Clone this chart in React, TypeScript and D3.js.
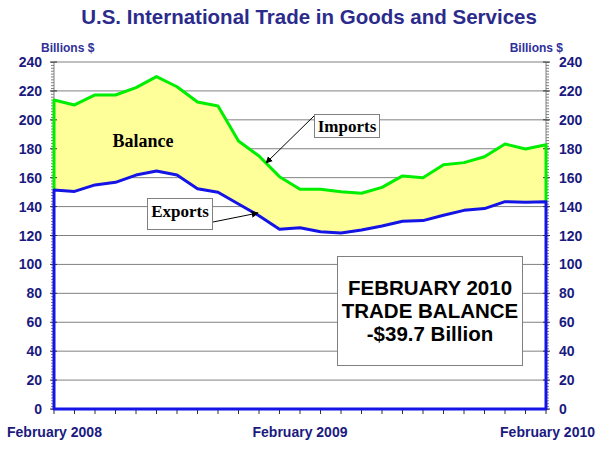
import React, { useRef, useEffect } from 'react';
import * as d3 from 'd3';

const months = [
  "Feb 2008", "Mar 2008", "Apr 2008", "May 2008", "Jun 2008", "Jul 2008", "Aug 2008",
  "Sep 2008", "Oct 2008", "Nov 2008", "Dec 2008", "Jan 2009", "Feb 2009", "Mar 2009",
  "Apr 2009", "May 2009", "Jun 2009", "Jul 2009", "Aug 2009", "Sep 2009", "Oct 2009",
  "Nov 2009", "Dec 2009", "Jan 2010", "Feb 2010"
];
const imports = [
  213.7, 210.3, 217.2, 217.2, 222.3, 229.9, 222.9, 212.3, 209.6, 185.4, 175.0, 160.7, 152.0,
  152.0, 150.3, 149.2, 153.3, 161.2, 160.0, 169.0, 170.4, 174.5, 183.3, 179.8, 182.8
];
const exports = [
  151.5, 150.5, 155.0, 156.8, 161.8, 164.6, 161.8, 152.4, 149.9, 141.8, 133.7, 124.3, 125.4,
  122.6, 121.7, 123.8, 126.6, 129.8, 130.3, 134.0, 137.4, 138.6, 143.4, 143.0, 143.4
];
const yTicks = [0, 20, 40, 60, 80, 100, 120, 140, 160, 180, 200, 220, 240];
const xLabels = [
  { idx: 0, text: "February 2008", anchor: "start" },
  { idx: 12, text: "February 2009", anchor: "middle" },
  { idx: 24, text: "February 2010", anchor: "end" }
];
const noteLines = ["FEBRUARY 2010", "TRADE BALANCE", "-$39.7 Billion"];

const TradeChart: React.FC = () => {
  const svgRef = useRef<SVGSVGElement | null>(null);

  useEffect(() => {
    const svg = d3.select(svgRef.current);
    svg.selectAll("*").remove();

    const width = 600;
    const height = 458;
    const left = 54, right = 546, top = 62, bottom = 409;

    svg.attr("width", width).attr("height", height);

    const x = d3.scaleLinear().domain([0, months.length - 1]).range([left, right]);
    const y = d3.scaleLinear().domain([0, 240]).range([bottom, top]);

    const navy = "#1a1a80";
    const gray = "#808080";

    svg.append("defs").append("marker")
      .attr("id", "arrow")
      .attr("viewBox", "0 0 10 10")
      .attr("refX", 9)
      .attr("refY", 5)
      .attr("markerWidth", 7)
      .attr("markerHeight", 7)
      .attr("markerUnits", "userSpaceOnUse")
      .attr("orient", "auto")
      .append("path")
      .attr("d", "M0,0 L10,5 L0,10 z")
      .attr("fill", "#000");

    // Title
    svg.append("text")
      .attr("x", 309)
      .attr("y", 24)
      .attr("text-anchor", "middle")
      .attr("font-family", "Arial, 'Liberation Sans', sans-serif")
      .attr("font-weight", "bold")
      .attr("font-size", 20.5)
      .attr("fill", "#2b2b8c")
      .text("U.S. International Trade in Goods and Services");

    // Gridlines
    svg.append("g")
      .selectAll("line")
      .data(yTicks.filter(t => t > 0))
      .join("line")
      .attr("x1", left)
      .attr("x2", right)
      .attr("y1", d => y(d))
      .attr("y2", d => y(d))
      .attr("stroke", gray)
      .attr("stroke-width", 1);

    // Balance area
    const area = d3.area<number>()
      .x((_, i) => x(i))
      .y0((_, i) => y(exports[i]))
      .y1(d => y(d));
    svg.append("path")
      .datum(imports)
      .attr("d", area)
      .attr("fill", "#ffff99");

    // Axes lines and ticks
    const minor = d3.range(0, 241, 2);
    const axes = svg.append("g").attr("stroke", gray).attr("stroke-width", 1);
    axes.append("line").attr("x1", left).attr("x2", left).attr("y1", top).attr("y2", bottom);
    axes.append("line").attr("x1", right).attr("x2", right).attr("y1", top).attr("y2", bottom);
    axes.selectAll(".ml").data(minor).join("line")
      .attr("x1", left - 3).attr("x2", left)
      .attr("y1", d => y(d) + 0.5).attr("y2", d => y(d) + 0.5);
    axes.selectAll(".mr").data(minor).join("line").attr("class", "mr")
      .attr("x1", right).attr("x2", right + 3)
      .attr("y1", d => y(d) + 0.5).attr("y2", d => y(d) + 0.5);
    axes.selectAll(".jl").data(yTicks).join("line").attr("class", "jl")
      .attr("stroke", "#333")
      .attr("x1", left - 4).attr("x2", left + 3)
      .attr("y1", d => y(d)).attr("y2", d => y(d));
    axes.selectAll(".jr").data(yTicks).join("line").attr("class", "jr")
      .attr("stroke", "#333")
      .attr("x1", right - 3).attr("x2", right + 4)
      .attr("y1", d => y(d)).attr("y2", d => y(d));
    axes.selectAll(".xt").data(months).join("line").attr("class", "xt")
      .attr("stroke", "#333")
      .attr("x1", (_, i) => x(i)).attr("x2", (_, i) => x(i))
      .attr("y1", bottom).attr("y2", bottom + 5);

    // Imports line (green, with vertical edges)
    const line = d3.line<[number, number]>()
      .x(d => x(d[0]))
      .y(d => y(d[1]));
    const greenPts: [number, number][] = [
      [0, exports[0]],
      ...imports.map((v, i) => [i, v] as [number, number]),
      [imports.length - 1, exports[exports.length - 1]]
    ];
    svg.append("path")
      .attr("d", line(greenPts))
      .attr("fill", "none")
      .attr("stroke", "#00ee00")
      .attr("stroke-width", 3)
      .attr("stroke-linejoin", "round");

    // Exports line (blue, closed to axis)
    const bluePts: [number, number][] = [
      [0, 0],
      ...exports.map((v, i) => [i, v] as [number, number]),
      [exports.length - 1, 0]
    ];
    svg.append("path")
      .attr("d", line(bluePts) + "Z")
      .attr("fill", "none")
      .attr("stroke", "#1414e6")
      .attr("stroke-width", 3)
      .attr("stroke-linejoin", "round");

    // Y labels
    const lab = svg.append("g")
      .attr("font-family", "Arial, 'Liberation Sans', sans-serif")
      .attr("font-weight", "bold")
      .attr("font-size", 14)
      .attr("fill", navy);
    lab.selectAll(".yl").data(yTicks).join("text").attr("class", "yl")
      .attr("x", 42).attr("y", d => y(d) + 5)
      .attr("text-anchor", "end")
      .text(d => d);
    lab.selectAll(".yr").data(yTicks).join("text").attr("class", "yr")
      .attr("x", 559).attr("y", d => y(d) + 5)
      .attr("text-anchor", "start")
      .text(d => d);
    lab.selectAll(".xl").data(xLabels).join("text").attr("class", "xl")
      .attr("x", d => d.anchor === "start" ? 7 : d.anchor === "end" ? 595 : x(d.idx))
      .attr("y", 437)
      .attr("text-anchor", d => d.anchor)
      .text(d => d.text);

    // Units
    [{ x: 41, a: "start" }, { x: 563, a: "end" }].forEach(u => {
      svg.append("text")
        .attr("x", u.x)
        .attr("y", 52)
        .attr("text-anchor", u.a)
        .attr("font-family", "Arial, 'Liberation Sans', sans-serif")
        .attr("font-weight", "bold")
        .attr("font-size", 12)
        .attr("fill", "#30309a")
        .text("Billions $");
    });

    // Annotations
    const serif = "'Times New Roman', 'Liberation Serif', serif";
    svg.append("text")
      .attr("x", 112.5).attr("y", 147)
      .attr("font-family", serif).attr("font-weight", "bold").attr("font-size", 18)
      .text("Balance");

    svg.append("line")
      .attr("x1", 213).attr("y1", 222).attr("x2", 258).attr("y2", 213)
      .attr("stroke", "#000").attr("stroke-width", 1)
      .attr("marker-end", "url(#arrow)");
    svg.append("rect")
      .attr("x", 147.5).attr("y", 198.5).attr("width", 65).attr("height", 31)
      .attr("fill", "#fff").attr("stroke", gray);
    svg.append("text")
      .attr("x", 180).attr("y", 217)
      .attr("text-anchor", "middle")
      .attr("font-family", serif).attr("font-weight", "bold").attr("font-size", 17)
      .text("Exports");

    svg.append("line")
      .attr("x1", 314).attr("y1", 116).attr("x2", 266).attr("y2", 163)
      .attr("stroke", "#000").attr("stroke-width", 1)
      .attr("marker-end", "url(#arrow)");
    svg.append("rect")
      .attr("x", 314.5).attr("y", 114.5).attr("width", 65).attr("height", 23)
      .attr("fill", "#fff").attr("stroke", gray);
    svg.append("text")
      .attr("x", 347).attr("y", 131.5)
      .attr("text-anchor", "middle")
      .attr("font-family", serif).attr("font-weight", "bold").attr("font-size", 17)
      .text("Imports");

    // Trade balance note
    svg.append("rect")
      .attr("x", 337.5).attr("y", 256.5).attr("width", 185).attr("height", 109)
      .attr("fill", "#fff").attr("stroke", gray);
    svg.append("g")
      .selectAll("text")
      .data(noteLines)
      .join("text")
      .attr("x", 430)
      .attr("y", (_, i) => 295 + i * 23)
      .attr("text-anchor", "middle")
      .attr("font-family", "Arial, 'Liberation Sans', sans-serif")
      .attr("font-weight", "bold")
      .attr("font-size", 20.5)
      .attr("fill", "#000")
      .text(d => d);
  }, []);

  return (
    <svg ref={svgRef} style={{ position: 'absolute', left: 0, top: 0, display: 'block' }}></svg>
  );
};

export default function App() {
  return <TradeChart />;
}
